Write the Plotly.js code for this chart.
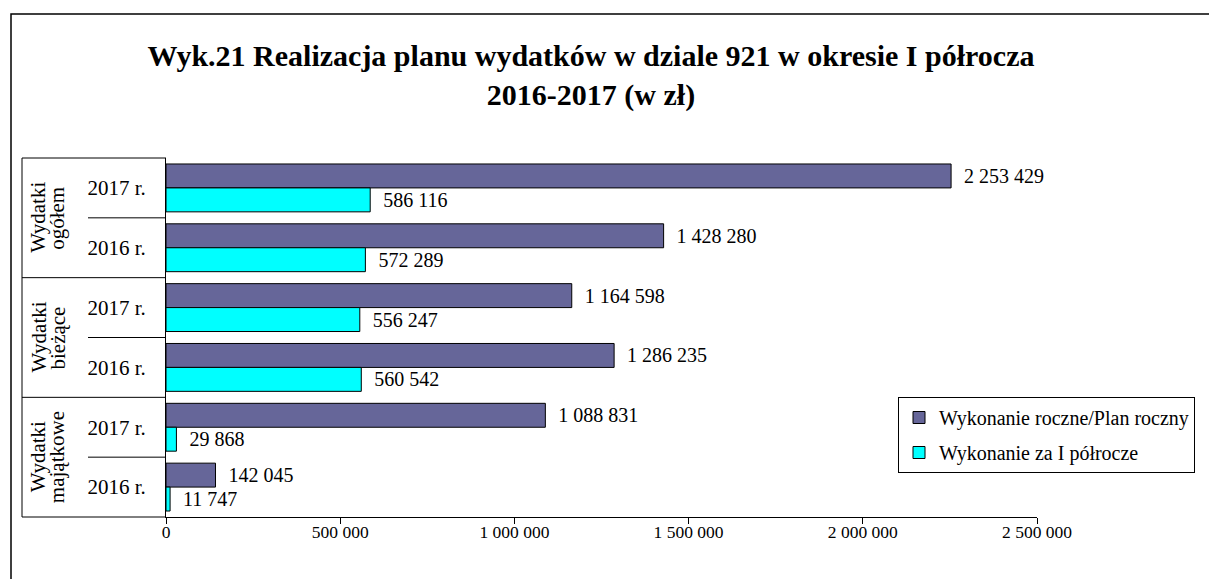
<!DOCTYPE html>
<html>
<head>
<meta charset="utf-8">
<script src="https://cdn.plot.ly/plotly-3.0.1.min.js"></script>
<style>
html,body{margin:0;padding:0;background:#fff;}
#chart{width:1209px;height:579px;}
</style>
</head>
<body>
<div id="chart"></div>
<script>
// ---- data ----
const groupLine1 = ["Wydatki", "Wydatki", "Wydatki"];
const groupLine2 = ["ogółem", "bieżące", "majątkowe"];
const years = ["2017 r.", "2016 r.", "2017 r.", "2016 r.", "2017 r.", "2016 r."];
const rowKeys = ["ogolem-2017", "ogolem-2016", "biezace-2017", "biezace-2016", "majatkowe-2017", "majatkowe-2016"];
const planRoczny = [2253429, 1428280, 1164598, 1286235, 1088831, 142045];
const polrocze = [586116, 572289, 556247, 560542, 29868, 11747];
const seriesNames = ["Wykonanie roczne/Plan roczny", "Wykonanie za I półrocze"];
const xTicks = [0, 500000, 1000000, 1500000, 2000000, 2500000];

const FONT = "Liberation Serif, Times New Roman, serif";

// plot geometry
const W = 1209, H = 579;
const L = 166, R = 172, T = 158, B = 62;
const pw = W - L - R, ph = H - T - B;
const px = v => (v - L) / pw;          // pixel -> paper x
const py = v => (H - B - v) / ph;      // pixel -> paper y

const traces = [
  {
    type: "bar", orientation: "h", name: seriesNames[0], legendgroup: "a",
    y: rowKeys, x: planRoczny,
    marker: {color: "#666699", line: {color: "#000", width: 1}},
    texttemplate: "\u00a0\u00a0%{x:,}", textposition: "outside", cliponaxis: false,
    textfont: {family: FONT, size: 20, color: "#000"},
    hoverinfo: "x+name"
  },
  {
    type: "bar", orientation: "h", name: seriesNames[1], legendgroup: "b",
    y: rowKeys, x: polrocze,
    marker: {color: "#00FFFF", line: {color: "#000", width: 1}},
    texttemplate: "\u00a0\u00a0%{x:,}", textposition: "outside", cliponaxis: false,
    textfont: {family: FONT, size: 20, color: "#000"},
    hoverinfo: "x+name"
  }
];

const shapes = [];
const line = {color: "#000", width: 1};
// outer frame
shapes.push({type: "rect", xref: "paper", yref: "paper",
  x0: px(11), x1: px(1250), y0: py(14), y1: py(620), line: {color: "#000", width: 1.5}, fillcolor: "rgba(0,0,0,0)"});
// category box
shapes.push({type: "line", xref: "paper", yref: "paper", x0: px(22), x1: px(22), y0: 0, y1: 1, line});
shapes.push({type: "line", xref: "paper", yref: "paper", x0: px(22), x1: 0, y0: 1, y1: 1, line});
shapes.push({type: "line", xref: "paper", yref: "paper", x0: px(22), x1: 0, y0: 0, y1: 0, line});
[1.5, 3.5].forEach(v => shapes.push({type: "line", xref: "paper", yref: "y", x0: px(22), x1: 0, y0: v, y1: v, line}));
[0.5, 2.5, 4.5].forEach(v => shapes.push({type: "line", xref: "paper", yref: "y", x0: px(88), x1: 0, y0: v, y1: v, line}));

const annotations = [];
groupLine1.forEach((g, i) => annotations.push({
  text: g, xref: "paper", yref: "y", x: px(38), y: 2 * i + 0.5,
  textangle: -90, showarrow: false, xanchor: "center", yanchor: "middle",
  font: {family: FONT, size: 21, color: "#000"}
}));
groupLine2.forEach((g, i) => annotations.push({
  text: g, xref: "paper", yref: "y", x: px(57), y: 2 * i + 0.5,
  textangle: -90, showarrow: false, xanchor: "center", yanchor: "middle",
  font: {family: FONT, size: 21, color: "#000"}
}));

const layout = {
  width: W, height: H,
  margin: {l: L, r: R, t: T, b: B, pad: 0},
  paper_bgcolor: "#fff", plot_bgcolor: "#fff",
  separators: ", ",
  font: {family: FONT, color: "#000"},
  title: {
    text: "<b>Wyk.21 Realizacja planu wydatków w dziale 921 w okresie I półrocza<br>2016-2017 (w zł)</b>",
    font: {family: FONT, size: 30, color: "#000"},
    x: 591 / W, xanchor: "center", y: 1 - 66 / H, yanchor: "middle", yref: "container"
  },
  barmode: "group", bargap: 0.2, bargroupgap: 0,
  xaxis: {
    range: [0, 2500000], tickvals: xTicks, tickformat: ",",
    showgrid: false, zeroline: false,
    showline: true, linecolor: "#000", linewidth: 1,
    ticks: "outside", ticklen: 6, tickcolor: "#000", ticklabelstandoff: -7,
    tickfont: {family: FONT, size: 17.5, color: "#000"}
  },
  yaxis: {
    type: "category", autorange: "reversed",
    tickvals: rowKeys, ticktext: years,
    showgrid: false, zeroline: false,
    showline: true, linecolor: "#000", linewidth: 1,
    ticks: "", ticklabelstandoff: 15,
    tickfont: {family: FONT, size: 21, color: "#000"}
  },
  showlegend: true,
  legend: {
    x: px(898), y: py(397), xanchor: "left", yanchor: "top",
    bordercolor: "#000", borderwidth: 1, bgcolor: "#fff",
    font: {family: FONT, size: 20, color: "#000"},
    traceorder: "grouped", itemwidth: 30, tracegroupgap: 6
  },
  shapes, annotations
};

Plotly.newPlot("chart", traces, layout, {displayModeBar: false, staticPlot: true});
</script>
</body>
</html>
